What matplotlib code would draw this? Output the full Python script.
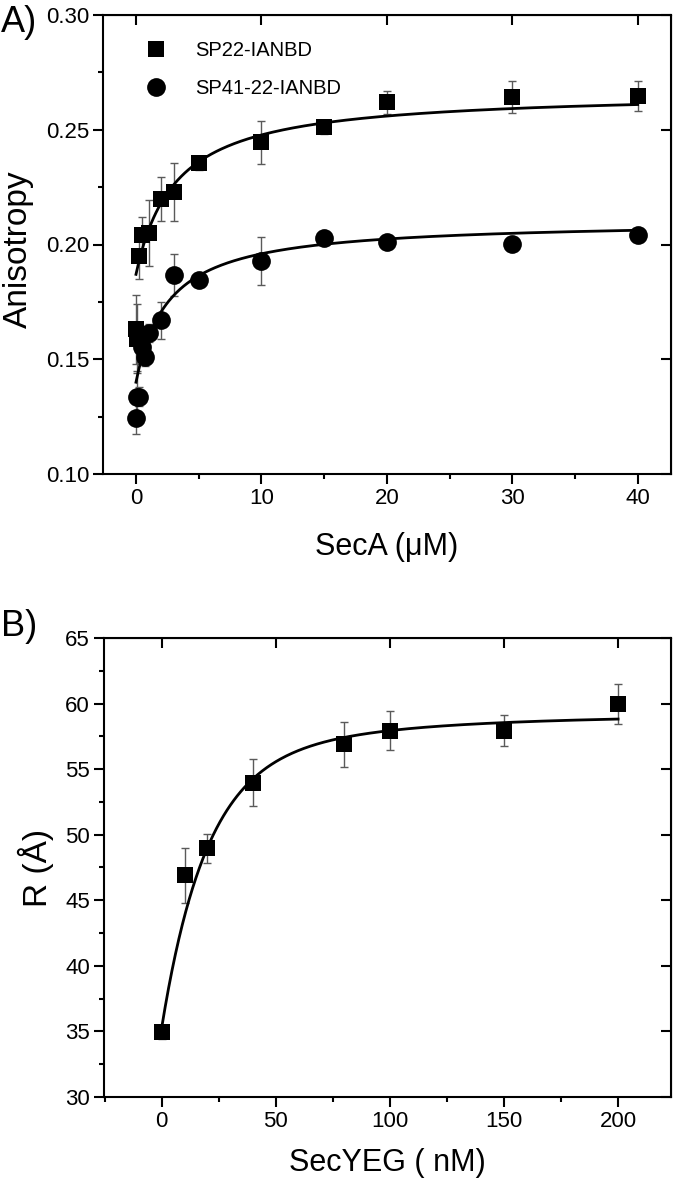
import numpy as np
import matplotlib
matplotlib.use('Agg')
import matplotlib.pyplot as plt
from matplotlib.ticker import MultipleLocator, FormatStrFormatter, NullLocator

plt.rcParams['font.family'] = ['Liberation Sans', 'DejaVu Sans']

# ---------------- Panel A data ----------------
seca_sp22 = [0, 0.1, 0.25, 0.5, 1, 2, 3, 5, 10, 15, 20, 30, 40]
aniso_sp22 = [0.163, 0.159, 0.195, 0.204, 0.205, 0.2197, 0.223, 0.2355,
              0.2445, 0.2513, 0.262, 0.2641, 0.2648]
err_sp22 = [0.015, 0.015, 0.010, 0.008, 0.0145, 0.0096, 0.0127, 0.003,
            0.0095, 0.003, 0.005, 0.007, 0.0065]

seca_sp41 = [0, 0.1, 0.25, 0.5, 0.75, 1, 2, 3, 5, 10, 15, 20, 30, 40]
aniso_sp41 = [0.1243, 0.1337, 0.1337, 0.1555, 0.151, 0.1614, 0.167, 0.1867,
              0.1845, 0.1929, 0.2027, 0.2012, 0.2002, 0.2041]
err_sp41 = [0.007, 0.011, 0.004, 0.004, 0.004, 0.004, 0.008, 0.009,
            0.003, 0.0105, 0.003, 0.003, 0.003, 0.003]

# hyperbolic binding fit parameters: y0 + Bmax*x/(Kd+x)
fit_sp22 = dict(y0=0.187, bmax=0.0798, kd=3.14)
fit_sp41 = dict(y0=0.140, bmax=0.0705, kd=2.6)

# ---------------- Panel B data ----------------
secyeg = [0, 10, 20, 40, 80, 100, 150, 200]
r_dist = [34.93, 46.92, 48.96, 53.96, 56.9, 57.93, 57.93, 59.97]
r_err = [0.5, 2.1, 1.1, 1.8, 1.7, 1.5, 1.2, 1.5]

# double-exponential rise fit parameters
fit_b = dict(y0=35.3, a1=19.9, t1=19.4, a2=3.9, t2=76.0)

LBL = 16
AXL_X = 22
AXL_Y = 24
ERR_C = '#5a5a5a'

fig = plt.figure(figsize=(6.77, 11.86), dpi=100)
W, H = 677, 1186
axA = fig.add_axes([103 / W, 1 - 474 / H, 568 / W, 459 / H])
axB = fig.add_axes([104 / W, 1 - 1097 / H, 567 / W, 459 / H])


def style(ax, xmaj, xmin, ymaj, ymin, yfmt):
    for s in ax.spines.values():
        s.set_linewidth(1.5)
    ax.xaxis.set_major_locator(MultipleLocator(xmaj))
    ax.xaxis.set_minor_locator(MultipleLocator(xmin))
    ax.yaxis.set_major_locator(MultipleLocator(ymaj))
    ax.yaxis.set_minor_locator(MultipleLocator(ymin))
    ax.yaxis.set_major_formatter(FormatStrFormatter(yfmt))
    ax.tick_params(which='major', direction='out', length=7, width=1.5,
                   labelsize=LBL, pad=3)
    ax.tick_params(which='minor', direction='out', length=3.8, width=1.5)
    top = ax.secondary_xaxis('top')
    top.xaxis.set_major_locator(MultipleLocator(xmaj))
    top.xaxis.set_minor_locator(NullLocator())
    top.tick_params(direction='in', length=7, width=1.5, labeltop=False)
    right = ax.secondary_yaxis('right')
    right.yaxis.set_major_locator(MultipleLocator(ymaj))
    right.yaxis.set_minor_locator(NullLocator())
    right.tick_params(direction='in', length=7, width=1.5, labelright=False)


# ---- Panel A ----
xa = np.linspace(0, 40, 400)
axA.plot(xa, fit_sp22['y0'] + fit_sp22['bmax'] * xa / (fit_sp22['kd'] + xa),
         color='black', lw=2.0, zorder=2)
axA.plot(xa, fit_sp41['y0'] + fit_sp41['bmax'] * xa / (fit_sp41['kd'] + xa),
         color='black', lw=2.0, zorder=2)
axA.errorbar(seca_sp22, aniso_sp22, yerr=err_sp22, fmt='none', ecolor=ERR_C,
             elinewidth=1.0, capsize=3, capthick=1.0, zorder=1)
axA.errorbar(seca_sp41, aniso_sp41, yerr=err_sp41, fmt='none', ecolor=ERR_C,
             elinewidth=1.0, capsize=3, capthick=1.0, zorder=1)
axA.plot(seca_sp22, aniso_sp22, 's', color='black', ms=11.5, mew=0,
         zorder=3, label='SP22-IANBD')
axA.plot(seca_sp41, aniso_sp41, 'o', color='black', ms=13.5, mew=0,
         zorder=3, label='SP41-22-IANBD')
axA.set_xlim(-2.63, 42.66)
axA.set_ylim(0.10, 0.30)
style(axA, 10, 5, 0.05, 0.025, '%.2f')
axA.set_xlabel('SecA (\u03bcM)', fontsize=AXL_X)
axA.set_ylabel('Anisotropy', fontsize=AXL_Y)
axA.yaxis.set_label_coords(-0.122, 0.49)
axA.xaxis.set_label_coords(0.5, -0.127)
leg = axA.legend(loc='upper left', bbox_to_anchor=(0.05, 0.975), frameon=False,
                 fontsize=14.5, handlelength=1.0, handletextpad=1.45,
                 labelspacing=0.95, borderpad=0.2)

# ---- Panel B ----
xb = np.linspace(0, 200, 400)
yb = (fit_b['y0'] + fit_b['a1'] * (1 - np.exp(-xb / fit_b['t1']))
      + fit_b['a2'] * (1 - np.exp(-xb / fit_b['t2'])))
axB.plot(xb, yb, color='black', lw=2.0, zorder=2)
axB.errorbar(secyeg, r_dist, yerr=r_err, fmt='none', ecolor=ERR_C,
             elinewidth=1.0, capsize=3, capthick=1.0, zorder=1)
axB.plot(secyeg, r_dist, 's', color='black', ms=11.5, mew=0, zorder=3)
axB.set_xlim(-25.3, 223.2)
axB.set_ylim(30, 65)
style(axB, 50, 25, 5, 2.5, '%d')
axB.set_xlabel('SecYEG ( nM)', fontsize=AXL_X)
axB.set_ylabel('R (\u00c5)', fontsize=AXL_Y)
axB.yaxis.set_label_coords(-0.088, 0.5)
axB.xaxis.set_label_coords(0.5, -0.112)

fig.text(1 / W, 1 - 22 / H, 'A)', fontsize=26, va='center', ha='left')
fig.text(1 / W, 1 - 626 / H, 'B)', fontsize=26, va='center', ha='left')

fig.savefig('out.png', dpi=100)
